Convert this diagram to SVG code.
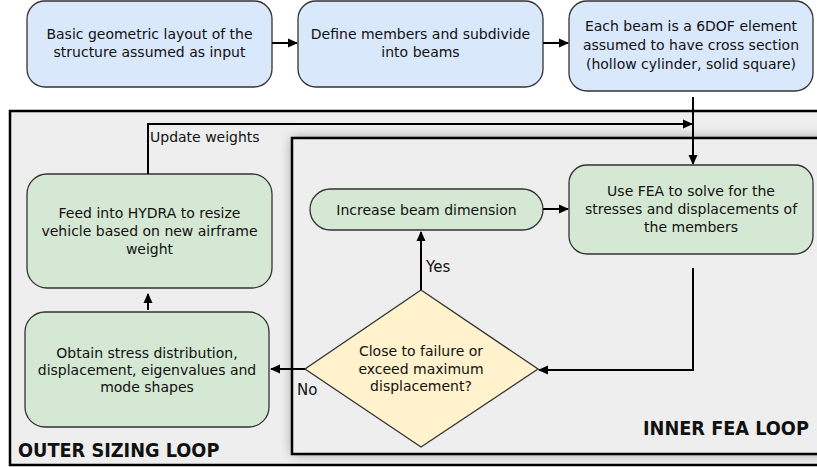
<svg xmlns="http://www.w3.org/2000/svg" width="817" height="467" viewBox="0 0 817 467">
<style>
text{font-family:"DejaVu Sans","Liberation Sans",sans-serif;font-size:14px;fill:#111;}
.c{text-anchor:middle;}
.blue{fill:#dae8fc;stroke:#333;stroke-width:1.3;}
.green{fill:#d5e8d4;stroke:#333;stroke-width:1.3;}
.dia{fill:#fff2cc;stroke:#333;stroke-width:1.3;}
.frame{fill:#eeeeee;stroke:#000;stroke-width:2.5;}
.conn{fill:none;stroke:#000;stroke-width:2;}
.big{font-family:"DejaVu Sans Condensed","DejaVu Sans",sans-serif;font-stretch:condensed;font-weight:bold;font-size:19.7px;}
</style>
<defs>
<marker id="ah" markerWidth="10" markerHeight="10" refX="9" refY="5" orient="auto" markerUnits="userSpaceOnUse">
<path d="M0,0.5 L10,5 L0,9.5 Z" fill="#000"/>
</marker>
<filter id="sh" x="-10%" y="-20%" width="130%" height="140%">
<feGaussianBlur stdDeviation="6"/>
</filter>
</defs>
<g id="outer-loop">
<rect class="frame" x="10" y="111" width="830" height="354"/>
<text class="big" x="18" y="457">OUTER SIZING LOOP</text>
</g>
<g id="inner-loop">
<rect x="292" y="138" width="540" height="316" fill="#000" opacity="0.35" filter="url(#sh)"/>
<rect class="frame" x="292" y="138" width="540" height="316"/>
<text class="big" x="643" y="435">INNER FEA LOOP</text>
</g>
<g id="n1">
<rect class="blue" x="27" y="1" width="245" height="86" rx="18"/>
<text class="c" x="149.5" y="39">Basic geometric layout of the</text>
<text class="c" x="149.5" y="57">structure assumed as input</text>
</g>
<g id="n2">
<rect class="blue" x="298" y="1" width="245" height="86" rx="18"/>
<text class="c" x="420.5" y="39">Define members and subdivide</text>
<text class="c" x="420.5" y="57">into beams</text>
</g>
<g id="n3">
<rect class="blue" x="569" y="1" width="244" height="90" rx="18"/>
<text class="c" x="691" y="31">Each beam is a 6DOF element</text>
<text class="c" x="691" y="50">assumed to have cross section</text>
<text class="c" x="691" y="69">(hollow cylinder, solid square)</text>
</g>
<g id="n-hydra">
<rect class="green" x="27" y="174" width="245" height="114" rx="20"/>
<text class="c" x="149.5" y="218">Feed into HYDRA to resize</text>
<text class="c" x="149.5" y="236">vehicle based on new airframe</text>
<text class="c" x="149.5" y="254">weight</text>
</g>
<g id="n-obtain">
<rect class="green" x="25" y="312" width="244" height="115" rx="20"/>
<text class="c" x="147" y="358">Obtain stress distribution,</text>
<text class="c" x="147" y="375">displacement, eigenvalues and</text>
<text class="c" x="147" y="392">mode shapes</text>
</g>
<g id="n-increase">
<rect class="green" x="310" y="189" width="233" height="41" rx="20.5"/>
<text class="c" x="426.5" y="215">Increase beam dimension</text>
</g>
<g id="n-fea">
<rect class="green" x="569" y="165" width="244" height="89" rx="18"/>
<text class="c" x="691" y="196">Use FEA to solve for the</text>
<text class="c" x="691" y="214">stresses and displacements of</text>
<text class="c" x="691" y="232">the members</text>
</g>
<g id="n-decision">
<polygon class="dia" points="421,290 538,369 421,447 305,369"/>
<text class="c" x="421" y="356">Close to failure or</text>
<text class="c" x="421" y="374">exceed maximum</text>
<text class="c" x="421" y="391">displacement?</text>
</g>
<g id="connectors">
<path class="conn" d="M272,43 L297,43" marker-end="url(#ah)"/>
<path class="conn" d="M543,43 L568,43" marker-end="url(#ah)"/>
<path class="conn" d="M693,97 L693,164" marker-end="url(#ah)"/>
<path class="conn" d="M148,174 L148,124 L692,124" marker-end="url(#ah)"/>
<path class="conn" d="M543,209 L568,209" marker-end="url(#ah)"/>
<path class="conn" d="M693,268 L693,370 L539,370" marker-end="url(#ah)"/>
<path class="conn" d="M421,290 L421,232" marker-end="url(#ah)"/>
<path class="conn" d="M305,369 L271,369" marker-end="url(#ah)"/>
<path class="conn" d="M148,310 L148,294" marker-end="url(#ah)"/>
<text x="150" y="142">Update weights</text>
<text x="426" y="272" style="font-size:15px">Yes</text>
<text x="297" y="395" style="font-size:15px">No</text>
</g>
</svg>
